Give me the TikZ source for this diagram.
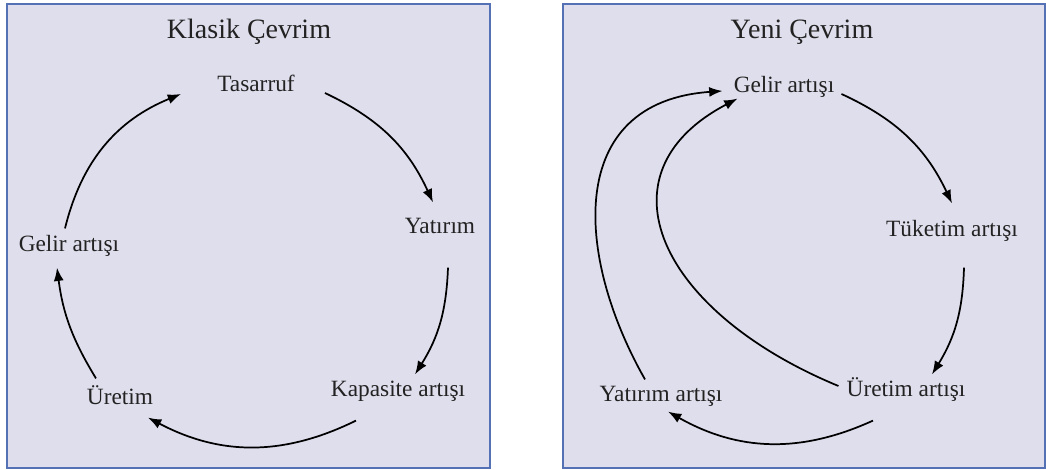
\documentclass[tikz,border=0pt]{standalone}
\usepackage{fontspec}
\setmainfont{Liberation Serif}
\usetikzlibrary{arrows.meta}
\definecolor{panelfill}{RGB}{223,222,237}
\definecolor{panelline}{RGB}{84,113,181}
\definecolor{txt}{RGB}{34,34,34}

\begin{document}
\begin{tikzpicture}[
  x=0.75pt,y=0.75pt,
  lbl/.style={anchor=base,inner sep=0pt,text height=0.7em,text depth=0.25em,
    font=\fontsize{17.5}{20}\selectfont,text=txt},
  ttl/.style={anchor=base,inner sep=0pt,font=\fontsize{21}{24}\selectfont,text=txt},
  arr/.style={-{Latex[length=10pt,width=7.5pt]},line width=1.3pt},
  panel/.style={fill=panelfill,draw=panelline,line width=1pt},
]
  \useasboundingbox (0,0) rectangle (1046,470);

  % Left: classic cycle
  \begin{scope}
    \draw[panel] (7,2) rectangle (490,466);
    \node[ttl] (klasik) at (249,431) {Klasik Çevrim};

    \node[lbl] (tasarruf) at (256,378) {Tasarruf};
    \node[lbl] (yatirim) at (440,236) {Yatırım};
    \node[lbl] (kapasite) at (398,73) {Kapasite artışı};
    \node[lbl] (uretim) at (120,65) {Üretim};
    \node[lbl] (gelir) at (69,218) {Gelir artışı};

    \draw[arr] ([shift={(30,-4)}]tasarruf.east) to[bend left=20] ([shift={(-7,22)}]yatirim.north);
    \draw[arr] ([shift={(8,-30)}]yatirim.south) to[bend left=15] ([shift={(17,13)}]kapasite.north);
    \draw[arr] ([shift={(-42,-20)}]kapasite.south) to[bend left=27] ([shift={(28,-9)}]uretim.south);
    \draw[arr] ([shift={(-24,17)}]uretim.north) to[bend left=12] ([shift={(-12,-12)}]gelir.south);
    \draw[arr] ([shift={(-4,14)}]gelir.north) to[bend left=27] ([shift={(-36,-5)}]tasarruf.west);
  \end{scope}

  % Right: new cycle
  \begin{scope}
    \draw[panel] (563,2) rectangle (1045,466);
    \node[ttl] (yeni) at (802,431) {Yeni Çevrim};

    \node[lbl] (ygelir) at (784,377) {Gelir artışı};
    \node[lbl] (tuketim) at (952,233) {Tüketim artışı};
    \node[lbl] (yuretim) at (906,73) {Üretim artışı};
    \node[lbl] (yyatirim) at (661,68) {Yatırım artışı};

    \draw[arr] ([shift={(7,-4)}]ygelir.east) to[bend left=20] ([shift={(0,24)}]tuketim.north);
    \draw[arr] ([shift={(12,-27)}]tuketim.south) to[bend left=15] ([shift={(26,13)}]yuretim.north);
    \draw[arr] ([shift={(-33,-20)}]yuretim.south) to[bend left=27] ([shift={(7,-6)}]yyatirim.south);

    % the two feedback loops back to income
    \draw[arr] ([shift={(-16,13)}]yyatirim.north) .. controls +(-70,123) and +(-158,-11) .. ([shift={(-11,-1)}]ygelir.west);
    \draw[arr] ([shift={(-8,8)}]yuretim.west) .. controls +(-179,74) and +(-143,-75) .. ([shift={(4,-2)}]ygelir.south west);
  \end{scope}
\end{tikzpicture}
\end{document}
